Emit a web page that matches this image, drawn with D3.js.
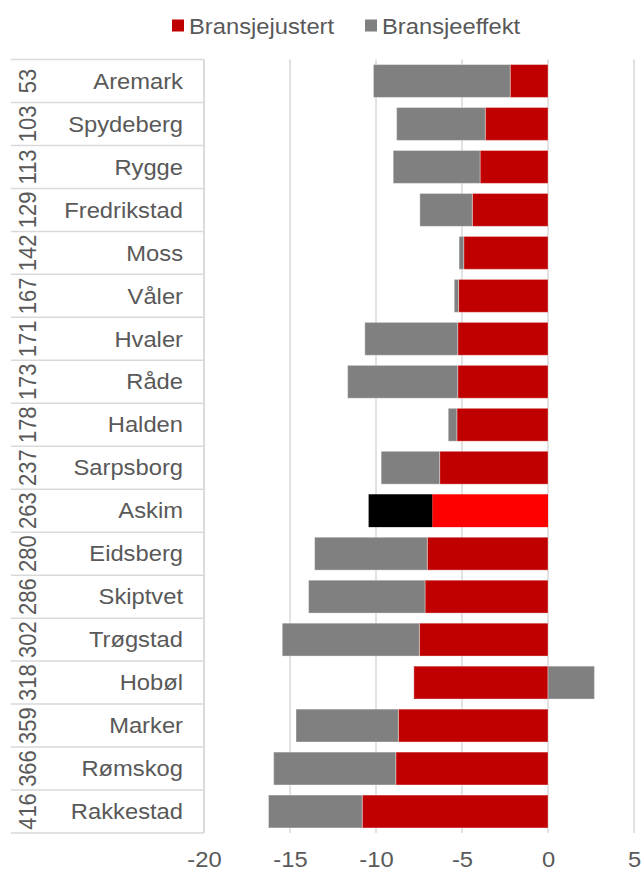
<!DOCTYPE html>
<html>
<head>
<meta charset="utf-8">
<script src="https://cdn.jsdelivr.net/npm/d3@7"></script>
<style>
  html, body { margin: 0; padding: 0; background: #fff; }
  svg { display: block; font-family: "Liberation Sans", Arial, sans-serif; }
</style>
</head>
<body>
<svg id="chart" width="641" height="871"></svg>
<script>
const ranks = ["53","103","113","129","142","167","171","173","178","237","263","280","286","302","318","359","366","416"];
const names = ["Aremark","Spydeberg","Rygge","Fredrikstad","Moss","Våler","Hvaler","Råde","Halden","Sarpsborg","Askim","Eidsberg","Skiptvet","Trøgstad","Hobøl","Marker","Rømskog","Rakkestad"];
const justert = [-2.2,-3.65,-3.95,-4.4,-4.9,-5.2,-5.25,-5.25,-5.3,-6.3,-6.73,-7.02,-7.15,-7.48,-7.8,-8.7,-8.85,-10.8];
const effekt  = [-7.95,-5.15,-5.05,-3.05,-0.27,-0.25,-5.4,-6.4,-0.5,-3.4,-3.7,-6.55,-6.77,-7.97,2.7,-5.95,-7.1,-5.45];
const xTicks = [-20,-15,-10,-5,0,5];
const seriesNames = ["Bransjejustert","Bransjeeffekt"];
const highlight = "Askim";

const colors = {Bransjejustert: "#C00000", Bransjeeffekt: "#808080"};
const hiColors = {Bransjejustert: "#FF0000", Bransjeeffekt: "#000000"};
const textColor = "#595959";
const lineColor = "#D9D9D9";
const stretch = 1.08;

const svg = d3.select("#chart");
const plotTop = 59.5, plotBottom = 833;
const x = d3.scaleLinear().domain([-20, 5]).range([204, 634]);
const y = d3.scaleBand().domain(names).range([plotTop, plotBottom]).paddingInner(0.235).paddingOuter(0.1175);
const rowY = d3.scaleBand().domain(names).range([plotTop, plotBottom]);

const table = names.map((n, i) => ({name: n, Bransjejustert: justert[i], Bransjeeffekt: effekt[i]}));
const stacked = d3.stack().keys(seriesNames).offset(d3.stackOffsetDiverging)(table);

// gridlines
svg.append("g").selectAll("line").data(xTicks).join("line")
  .attr("x1", d => x(d)).attr("x2", d => x(d))
  .attr("y1", plotTop).attr("y2", plotBottom)
  .attr("stroke", lineColor).attr("stroke-width", 1.5);

// category box lines
const box = svg.append("g");
box.selectAll("line.row").data(d3.range(names.length + 1)).join("line")
  .attr("class", "row")
  .attr("x1", 11).attr("x2", 204)
  .attr("y1", i => plotTop + i * rowY.step()).attr("y2", i => plotTop + i * rowY.step())
  .attr("stroke", lineColor).attr("stroke-width", 1.5);
box.append("line").attr("x1", 204).attr("x2", 204).attr("y1", plotTop).attr("y2", plotBottom)
  .attr("stroke", lineColor).attr("stroke-width", 1.5);

// bars
svg.append("g").selectAll("g").data(stacked).join("g")
  .each(function(s) {
    d3.select(this).selectAll("rect").data(s).join("rect")
      .attr("x", d => x(Math.min(d[0], d[1])))
      .attr("width", d => Math.abs(x(d[1]) - x(d[0])))
      .attr("y", d => y(d.data.name))
      .attr("height", y.bandwidth())
      .attr("fill", d => d.data.name === highlight ? hiColors[s.key] : colors[s.key])
      .attr("stroke", d => d.data.name === highlight ? "none" : "rgba(255,255,255,0.35)")
      .attr("stroke-width", 1);
  });

// category labels
svg.append("g").selectAll("text").data(names).join("text")
  .attr("transform", d => `translate(183,${rowY(d) + rowY.bandwidth() / 2}) scale(${stretch},1)`)
  .attr("text-anchor", "end")
  .attr("dominant-baseline", "central")
  .attr("font-size", 22)
  .attr("fill", textColor)
  .text(d => d);

// rank labels rotated
svg.append("g").selectAll("text").data(ranks).join("text")
  .attr("transform", (d, i) => `translate(28,${rowY(names[i]) + rowY.bandwidth() / 2}) scale(${stretch},1) rotate(-90)`)
  .attr("text-anchor", "middle")
  .attr("dominant-baseline", "central")
  .attr("font-size", 22)
  .attr("fill", textColor)
  .text(d => d);

// x axis
const xAxis = svg.append("g").attr("transform", `translate(0,${plotBottom})`)
  .call(d3.axisBottom(x).tickValues(xTicks).tickSize(0).tickPadding(0).tickFormat(d3.format("d")));
xAxis.select(".domain").remove();
xAxis.selectAll("text")
  .attr("y", null)
  .attr("dy", null)
  .attr("transform", `translate(0,26) scale(${stretch},1)`)
  .attr("dominant-baseline", "central")
  .attr("font-size", 22)
  .attr("font-family", "Liberation Sans, Arial, sans-serif")
  .attr("fill", textColor)
  .text(d => d < 0 ? "-" + Math.abs(d) : d);

// legend
const legendX = [172, 365];
const legend = svg.append("g");
seriesNames.forEach((k, i) => {
  legend.append("rect").attr("x", legendX[i]).attr("y", 19.5).attr("width", 12).attr("height", 12).attr("fill", colors[k]);
  legend.append("text")
    .attr("transform", `translate(${legendX[i] + 17},26.5) scale(${stretch},1)`)
    .attr("dominant-baseline", "central")
    .attr("font-size", 22).attr("fill", textColor).text(k);
});
</script>
</body>
</html>
